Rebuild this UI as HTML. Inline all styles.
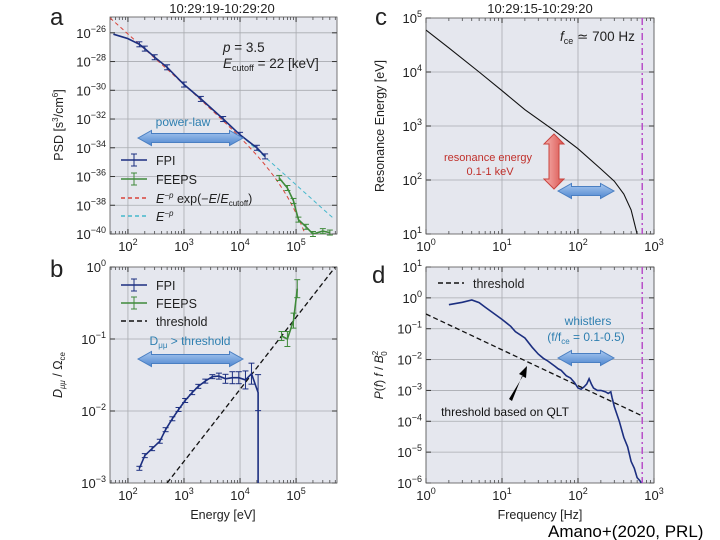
<!DOCTYPE html>
<html><head><meta charset="utf-8"><style>
body{margin:0;background:#fff;}
svg{display:block;font-family:"Liberation Sans",sans-serif;}
</style></head><body>
<svg id="fig" width="720" height="540" viewBox="0 0 720 540" xmlns="http://www.w3.org/2000/svg">
<defs>
<linearGradient id="bg1" x1="0" y1="0" x2="0" y2="1"><stop offset="0" stop-color="#a9c8ef"/><stop offset="1" stop-color="#4f87d0"/></linearGradient>
<linearGradient id="rg1" x1="0" y1="0" x2="1" y2="0"><stop offset="0" stop-color="#f7b3b0"/><stop offset="1" stop-color="#d9524d"/></linearGradient>
<clipPath id="clipA"><rect x="110" y="17" width="227" height="217"/></clipPath>
<clipPath id="clipB"><rect x="110" y="267" width="227" height="216"/></clipPath>
<clipPath id="clipC"><rect x="426" y="18" width="228" height="216"/></clipPath>
<clipPath id="clipD"><rect x="426" y="267" width="228" height="216"/></clipPath>
</defs>
</svg>
<script>
// ---------- data ----------
const fpiE = [55,100,160,200,300,500,1000,2000,5000,10000,20000,28000];
const fpiPSD = [-26.1,-26.4,-26.8,-27.1,-27.7,-28.4,-29.6,-30.6,-32.0,-33.1,-34.0,-34.6];
const feepsE = [50000,70000,90000,110000,150000,200000,300000,400000];
const feepsPSD = [-36.1,-36.8,-37.7,-39.0,-39.5,-40.0,-39.8,-39.9];
const fitParams = [3.5, 22000, -19.08]; // p, Ecutoff [eV], log normalization
const dE = [160,200,270,370,470,620,800,1050,1400,1800,2400,3200,4200,5500,7300,9500,12500,16000,21000,21000];
const dFPI = [1.6e-3,2.4e-3,3e-3,3.8e-3,5.5e-3,7.8e-3,1.05e-2,1.4e-2,1.8e-2,2.2e-2,2.6e-2,3e-2,3.05e-2,2.8e-2,2.9e-2,2.9e-2,2.7e-2,3.3e-2,1.8e-2,1e-3];
const dErr = [0,0,0,0,0,0,0,0,0,0,0,0,0.1,0.15,0.2,0.2,0.3,0.35,0.6,0];
const dFeE = [55000,70000,90000,105000];
const dFeV = [0.11,0.1,0.18,0.5];
const dFeErr = [0.15,0.25,0.25,0.3];
const thrB = [[500,1e-3],[500000,1]];
const resF = [1,2,5,10,20,50,100,200,300,400,500,600];
const resE = [60000,28000,10000,4500,2000,800,380,160,95,55,28,10];
const fce = [700];
const psF = [2,3,4,5,6,8,10,13,15,20,25,30,35,40,50,55,60,70,80,90,100,110,120,130,140,150,160,180,200,230,250,270,280,300,350,400,450,500,550,600,650,680];
const psV = [0.6,0.72,0.85,0.7,0.5,0.3,0.2,0.12,0.08,0.05,0.025,0.015,0.011,0.009,0.006,0.005,0.0045,0.003,0.0025,0.0018,0.0012,0.0011,0.0013,0.0016,0.0024,0.0016,0.0012,0.001,0.001,0.0009,0.0008,0.0009,0.0006,0.0003,1e-4,3e-5,1.5e-5,5e-6,3e-6,1.5e-6,1.2e-6,1e-6];
const thrD = [[1,0.3],[700,1.5e-4]];

// ---------- helpers ----------
const svg = document.getElementById('fig');
const NS = 'http://www.w3.org/2000/svg';
function mk(tag, attrs, parent){const e=document.createElementNS(NS,tag);for(const k in attrs)e.setAttribute(k,attrs[k]);(parent||svg).appendChild(e);return e;}
function L10(v){return Math.log10(v);}
function axes(c){
  c.sx = v => c.x0 + (L10(v)-c.xmin)/(c.xmax-c.xmin)*(c.x1-c.x0);
  c.sy = v => c.y1 - (L10(v)-c.ymin)/(c.ymax-c.ymin)*(c.y1-c.y0);
  c.syl = l => c.y1 - (l-c.ymin)/(c.ymax-c.ymin)*(c.y1-c.y0);
  const g = mk('g',{});
  
  
  mk('rect',{x:c.x0,y:c.y0,width:c.x1-c.x0,height:c.y1-c.y0,fill:'#e5e7ee'},g);
  for(let d=Math.ceil(c.xmin); d<=Math.floor(c.xmax); d++){
    const x=c.x0+(d-c.xmin)/(c.xmax-c.xmin)*(c.x1-c.x0);
    mk('line',{x1:x,x2:x,y1:c.y0,y2:c.y1,stroke:'#a9abb0','stroke-width':0.8},g);
    for(const y of [c.y0,c.y1]){const s=y===c.y0?1:-1;mk('line',{x1:x,x2:x,y1:y,y2:y+s*5,stroke:'#333','stroke-width':1},g);}
    const t=mk('text',{x:x,y:c.y1+17,'text-anchor':'middle','font-size':13,fill:'#222'},g);
    
    t.textContent='10';const sp=mk('tspan',{dy:-6,'font-size':9},t);sp.textContent=String(d);
    for(let m=2;m<10;m++){const xm=c.x0+(d+L10(m)-c.xmin)/(c.xmax-c.xmin)*(c.x1-c.x0); if(xm>c.x1+0.5)break;
      for(const y of [c.y0,c.y1]){const s=y===c.y0?1:-1;mk('line',{x1:xm,x2:xm,y1:y,y2:y+s*3,stroke:'#333','stroke-width':0.7},g);}}
    if(d===Math.ceil(c.xmin)){for(let m=2;m<10;m++){const xm=c.x0+(d-1+L10(m)-c.xmin)/(c.xmax-c.xmin)*(c.x1-c.x0); if(xm<c.x0)continue;
      for(const y of [c.y0,c.y1]){const s=y===c.y0?1:-1;mk('line',{x1:xm,x2:xm,y1:y,y2:y+s*3,stroke:'#333','stroke-width':0.7},g);}}}
  }
  for(let d=Math.ceil(c.ymin); d<=Math.floor(c.ymax); d+=c.ystep||1){
    const y=c.syl(d);
    if(y>c.y0+1&&y<c.y1-1) mk('line',{x1:c.x0,x2:c.x1,y1:y,y2:y,stroke:'#a9abb0','stroke-width':0.8},g);
    mk('line',{x1:c.x0,x2:c.x0+5,y1:y,y2:y,stroke:'#333'},g);mk('line',{x1:c.x1,x2:c.x1-5,y1:y,y2:y,stroke:'#333'},g);
    const t=mk('text',{x:c.x0-4,y:y+5,'text-anchor':'end','font-size':13,fill:'#222'},g);
    
    t.textContent='10';const sp=mk('tspan',{dy:-6,'font-size':9},t);sp.textContent=(d<0?'\u2212'+(-d):String(d));
  }
  mk('rect',{x:c.x0,y:c.y0,width:c.x1-c.x0,height:c.y1-c.y0,fill:'none',stroke:'#555','stroke-width':0.8},g);
  return g;
}
function path(c, xs, ys, attrs, name, logy){
  const d=xs.map((x,i)=>(i?'L':'M')+c.sx(x).toFixed(1)+','+(logy?c.syl(ys[i]):c.sy(ys[i])).toFixed(1)).join('');
  const p=mk('path',Object.assign({d:d,fill:'none','clip-path':'url(#'+c.clip+')'},attrs));
  return p;
}
function txt(x,y,s,attrs,name){const t=mk('text',Object.assign({x:x,y:y},attrs));t.textContent=s;return t;}
function harrow(x1,x2,y,h,fill,stroke,name){
  const hw=h/2, hd=h*0.9, sh=h*0.3;
  const p=mk('polygon',{points:`${x1},${y} ${x1+hd},${y-hw} ${x1+hd},${y-sh} ${x2-hd},${y-sh} ${x2-hd},${y-hw} ${x2},${y} ${x2-hd},${y+hw} ${x2-hd},${y+sh} ${x1+hd},${y+sh} ${x1+hd},${y+hw}`,fill:fill,stroke:stroke,'stroke-width':1});
  
}
function errbars(c,xs,ys,errPx,color,logy){
  xs.forEach((x,i)=>{const px=c.sx(x);const py=logy?c.syl(ys[i]):c.sy(ys[i]);const e=errPx?Math.max(errPx[i]*30,2):2.5;
    mk('line',{x1:px,x2:px,y1:py-e,y2:py+e,stroke:color,'stroke-width':1});
    mk('line',{x1:px-3,x2:px+3,y1:py-e,y2:py-e,stroke:color,'stroke-width':1});
    mk('line',{x1:px-3,x2:px+3,y1:py+e,y2:py+e,stroke:color,'stroke-width':1});});
}
function legendLine(x,y,color,dash,err,label,name){
  mk('line',{x1:x,x2:x+26,y1:y,y2:y,stroke:color,'stroke-width':1.5,'stroke-dasharray':dash||''});
  if(err){mk('line',{x1:x+13,x2:x+13,y1:y-6,y2:y+6,stroke:color});mk('line',{x1:x+10,x2:x+16,y1:y-6,y2:y-6,stroke:color});mk('line',{x1:x+10,x2:x+16,y1:y+6,y2:y+6,stroke:color});}
  const t=txt(x+35,y+5,'',{'font-size':12.5,fill:'#222'},name);t.innerHTML=label;
}

// ---------- panel a ----------
const A={name:'panel-a',clip:'clipA',x0:110,x1:337,y0:17,y1:234,xmin:1.68,xmax:5.73,ymin:-40,ymax:-24.9,ystep:2};
axes(A);
const fitE=[];for(let l=1.68;l<=5.7;l+=0.04)fitE.push(Math.pow(10,l));
const [pp,ec,An]=fitParams;
path(A,fitE,fitE.map(e=>An-pp*L10(e)-e/ec/Math.LN10),{stroke:'#d9443a','stroke-width':1,'stroke-dasharray':'4,3'},'fit-cutoff-line',true);
const plE=fitE.filter(e=>e>8000&&e<5.4e5);
path(A,plE,plE.map(e=>An-pp*L10(e)),{stroke:'#45b8cc','stroke-width':1,'stroke-dasharray':'4,3'},'power-law-line',true);
path(A,fpiE,fpiPSD,{stroke:'#1c2f80','stroke-width':1.6},'fpi-psd-line',true);
errbars(A,fpiE.slice(2),fpiPSD.slice(2),null,'#1c2f80',true);
path(A,feepsE,feepsPSD,{stroke:'#3f8a3a','stroke-width':1.6},'feeps-psd-line',true);
errbars(A,feepsE,feepsPSD,null,'#3f8a3a',true);
txt(222,13,'10:29:19-10:29:20',{'text-anchor':'middle','font-size':13,fill:'#222'},'panel-a-title');
txt(50,25,'a',{'font-size':24,fill:'#222'},'panel-a-letter');
const pl=txt(223,52,'',{'font-size':13.5,fill:'#222'},'fit-p-label');pl.innerHTML='<tspan font-style="italic">p</tspan> = 3.5';
const el=txt(223,68,'',{'font-size':13.5,fill:'#222'},'fit-ecut-label');el.innerHTML='<tspan font-style="italic">E</tspan><tspan font-size="9" dy="3">cutoff</tspan><tspan dy="-3"> = 22 [keV]</tspan>';
const ya=txt(0,0,'',{'font-size':12.5,fill:'#222',transform:'translate(63,125) rotate(-90)','text-anchor':'middle'},'y-axis-title-a');ya.innerHTML='PSD [s<tspan font-size="8" dy="-5">3</tspan><tspan dy="5">/cm</tspan><tspan font-size="8" dy="-5">6</tspan><tspan dy="5">]</tspan>';
legendLine(121,160,'#1c2f80','',true,'FPI','legend-fpi-a');
legendLine(121,179,'#3f8a3a','',true,'FEEPS','legend-feeps-a');
legendLine(121,198,'#d9443a','4,3',false,'<tspan font-style="italic">E</tspan><tspan font-size="8" dy="-5" font-style="italic">−p</tspan><tspan dy="5"> exp(−</tspan><tspan font-style="italic">E</tspan>/<tspan font-style="italic">E</tspan><tspan font-size="8" dy="3">cutoff</tspan><tspan dy="-3">)</tspan>','legend-fit-a');
legendLine(121,216,'#45b8cc','4,3',false,'<tspan font-style="italic">E</tspan><tspan font-size="8" dy="-5" font-style="italic">−p</tspan>','legend-powerlaw-a');
harrow(138,243,138,15,'url(#bg1)','#4a7fc2','power-law-arrow');
txt(183,126,'power-law',{'text-anchor':'middle','font-size':12,fill:'#2e7fb0'},'power-law-label');

// ---------- panel b ----------
const B={name:'panel-b',clip:'clipB',x0:110,x1:337,y0:267,y1:483,xmin:1.68,xmax:5.73,ymin:-3,ymax:0};
axes(B);
path(B,thrB.map(p=>p[0]),thrB.map(p=>p[1]),{stroke:'#111','stroke-width':1.3,'stroke-dasharray':'5,3'},'threshold-line-b');
path(B,dE,dFPI,{stroke:'#1c2f80','stroke-width':1.6},'fpi-dmm-line');
errbars(B,dE.slice(0,19),dFPI.slice(0,19),dErr,'#1c2f80',false);
path(B,dFeE,dFeV,{stroke:'#3f8a3a','stroke-width':1.6},'feeps-dmm-line');
errbars(B,dFeE,dFeV,dFeErr,'#3f8a3a',false);
txt(50,277,'b',{'font-size':24,fill:'#222'},'panel-b-letter');
const yb=txt(0,0,'',{'font-size':12.5,fill:'#222',transform:'translate(62,375) rotate(-90)','text-anchor':'middle'},'y-axis-title-b');yb.innerHTML='<tspan font-style="italic">D</tspan><tspan font-size="8" dy="3" font-style="italic">μμ</tspan><tspan dy="-3"> / Ω</tspan><tspan font-size="8" dy="3">ce</tspan>';
txt(223,519,'Energy [eV]',{'text-anchor':'middle','font-size':12.5,fill:'#222'},'x-axis-title-b');
legendLine(121,285,'#1c2f80','',true,'FPI','legend-fpi-b');
legendLine(121,303,'#3f8a3a','',true,'FEEPS','legend-feeps-b');
legendLine(121,321,'#111','5,3',false,'threshold','legend-threshold-b');
harrow(138,243,359,15,'url(#bg1)','#4a7fc2','dmm-arrow');
const dl=txt(190,345,'',{'text-anchor':'middle','font-size':12,fill:'#2e7fb0'},'dmm-label');dl.innerHTML='D<tspan font-size="8" dy="3">μμ</tspan><tspan dy="-3"> &gt; threshold</tspan>';

// ---------- panel c ----------
const C={name:'panel-c',clip:'clipC',x0:426,x1:654,y0:18,y1:234,xmin:0,xmax:3,ymin:1,ymax:5};
axes(C);
path(C,resF,resE,{stroke:'#111','stroke-width':1.1},'resonance-energy-line');
const vx=C.sx(fce[0]);
const vl=mk('line',{x1:vx,x2:vx,y1:C.y0,y2:C.y1,stroke:'#b84fc9','stroke-width':1.5,'stroke-dasharray':'7,3,2,3'});

txt(540,13,'10:29:15-10:29:20',{'text-anchor':'middle','font-size':13,fill:'#222'},'panel-c-title');
txt(375,25,'c',{'font-size':24,fill:'#222'},'panel-c-letter');
const fl=txt(560,41,'',{'font-size':13.5,fill:'#222'},'fce-label');fl.innerHTML='<tspan font-style="italic">f</tspan><tspan font-size="9" dy="3">ce</tspan><tspan dy="-3"> ≃ 700 Hz</tspan>';
txt(0,0,'Resonance Energy [eV]',{'font-size':12.5,fill:'#222',transform:'translate(384,126) rotate(-90)','text-anchor':'middle'},'y-axis-title-c');
const ra=mk('polygon',{points:'554,134 564,144 559,144 559,179 564,179 554,189 544,179 549,179 549,144 544,144',fill:'url(#rg1)',stroke:'#c9443f','stroke-width':1});

harrow(558,614,191,15,'url(#bg1)','#4a7fc2','frequency-arrow-c');
txt(488,161,'resonance energy',{'text-anchor':'middle','font-size':11,fill:'#c0302b'},'resonance-label-1');
txt(490,175,'0.1-1 keV',{'text-anchor':'middle','font-size':11,fill:'#c0302b'},'resonance-label-2');

// ---------- panel d ----------
const D={name:'panel-d',clip:'clipD',x0:426,x1:654,y0:267,y1:483,xmin:0,xmax:3,ymin:-6,ymax:1};
axes(D);
path(D,thrD.map(p=>p[0]),thrD.map(p=>p[1]),{stroke:'#111','stroke-width':1.3,'stroke-dasharray':'5,3'},'threshold-line-d');
path(D,psF,psV,{stroke:'#1c2f80','stroke-width':1.6},'wave-power-line');
const vx2=D.sx(fce[0]);
const vl2=mk('line',{x1:vx2,x2:vx2,y1:D.y0,y2:D.y1,stroke:'#b84fc9','stroke-width':1.5,'stroke-dasharray':'7,3,2,3'});

txt(372,283,'d',{'font-size':24,fill:'#222'},'panel-d-letter');
const yd=txt(0,0,'',{'font-size':12,fill:'#222',transform:'translate(383,375) rotate(-90)','text-anchor':'middle'},'y-axis-title-d');yd.innerHTML='<tspan font-style="italic">P</tspan>(<tspan font-style="italic">f</tspan>) <tspan font-style="italic">f</tspan> / <tspan font-style="italic">B</tspan><tspan font-size="8" dy="-5">2</tspan><tspan font-size="8" dx="-5" dy="9">0</tspan>';
txt(540,519,'Frequency [Hz]',{'text-anchor':'middle','font-size':12.5,fill:'#222'},'x-axis-title-d');
legendLine(438,283,'#111','5,3',false,'threshold','legend-threshold-d');
harrow(558,614,358,15,'url(#bg1)','#4a7fc2','whistler-arrow');
txt(588,325,'whistlers',{'text-anchor':'middle','font-size':12,fill:'#2e7fb0'},'whistlers-label');
const wl=txt(586,341,'',{'text-anchor':'middle','font-size':12,fill:'#2e7fb0'},'whistlers-range-label');wl.innerHTML='(f/f<tspan font-size="8" dy="3">ce</tspan><tspan dy="-3"> = 0.1-0.5)</tspan>';
const ba=mk('polygon',{points:'509,399 523,376 519,374 527,366 526,378 522,376 512,401',fill:'#000'});

txt(505,416,'threshold based on QLT',{'text-anchor':'middle','font-size':12,fill:'#111'},'qlt-label');
txt(548,537,'Amano+(2020, PRL)',{'font-size':17,fill:'#000'},'citation');
</script>
</body></html>
